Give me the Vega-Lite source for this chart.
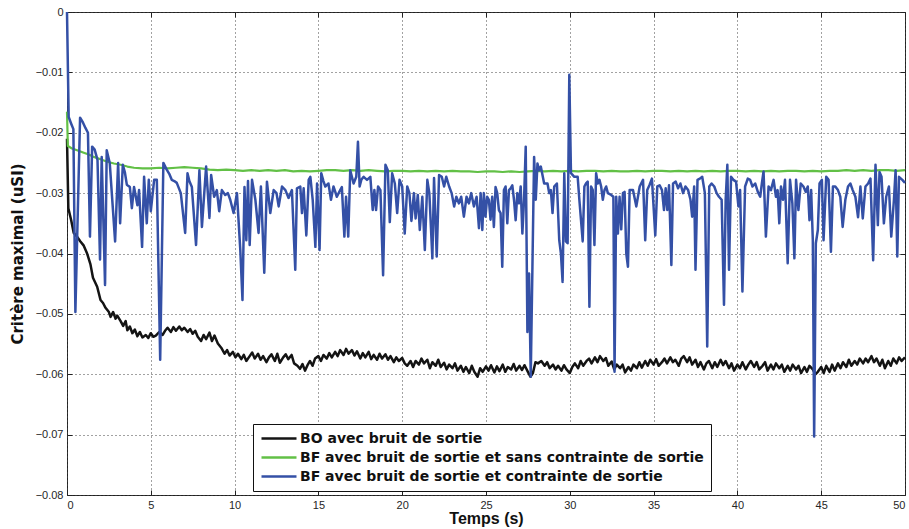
{
  "$schema": "https://vega.github.io/schema/vega-lite/v6.json",
  "width": 838,
  "height": 483,
  "autosize": {"type": "none"},
  "padding": {"left": 67, "top": 12, "right": 5, "bottom": 34},
  "background": "white",
  "resolve": {"axis": {"x": "independent", "y": "independent"}},
  "config": {
    "view": {"stroke": "#222222", "strokeWidth": 1},
    "font": "Liberation Sans",
    "axis": {
      "labelFont": "Liberation Sans",
      "labelFontSize": 11,
      "labelColor": "#262626",
      "titleFont": "Liberation Sans",
      "titleFontWeight": "bold",
      "titleColor": "#111111",
      "gridColor": "#444444",
      "gridDash": [1, 3],
      "gridWidth": 1,
      "gridOpacity": 1,
      "domain": false,
      "tickColor": "#222222",
      "tickSize": -5,
      "tickWidth": 1
    },
    "legend": {
      "labelFont": "DejaVu Sans",
      "labelFontSize": 14,
      "labelFontWeight": "bold",
      "labelColor": "#111111",
      "labelLimit": 0
    }
  },
  "datasets": {
    "bo": [
      {"t":0,"v":-0.021},{"t":0.08,"v":-0.0325},{"t":0.25,"v":-0.0345},{"t":0.4,"v":-0.0366},{"t":0.6,"v":-0.0372},{"t":0.8,"v":-0.038},{"t":1.0,"v":-0.0387},{"t":1.2,"v":-0.04},{"t":1.4,"v":-0.0418},{"t":1.55,"v":-0.044},{"t":1.8,"v":-0.0455},{"t":2.0,"v":-0.0477},{"t":2.15,"v":-0.0482},{"t":2.3,"v":-0.049},{"t":2.5,"v":-0.0497},{"t":2.6,"v":-0.0505},{"t":2.75,"v":-0.0497},{"t":2.9,"v":-0.0508},{"t":3.0,"v":-0.0503},{"t":3.2,"v":-0.0512},{"t":3.35,"v":-0.052},{"t":3.5,"v":-0.0512},{"t":3.6,"v":-0.0527},{"t":3.75,"v":-0.0521},{"t":3.9,"v":-0.0532},{"t":4.05,"v":-0.0526},{"t":4.2,"v":-0.0537},{"t":4.35,"v":-0.053},{"t":4.5,"v":-0.0539},{"t":4.7,"v":-0.0535},{"t":4.85,"v":-0.054},{"t":5.0,"v":-0.0532},{"t":5.15,"v":-0.0538},{"t":5.3,"v":-0.0536},{"t":5.5,"v":-0.053},{"t":5.7,"v":-0.0535},{"t":5.85,"v":-0.0528},{"t":6.0,"v":-0.0523},{"t":6.2,"v":-0.053},{"t":6.35,"v":-0.0522},{"t":6.5,"v":-0.0528},{"t":6.7,"v":-0.0521},{"t":6.85,"v":-0.0527},{"t":7.0,"v":-0.0523},{"t":7.2,"v":-0.053},{"t":7.35,"v":-0.0525},{"t":7.5,"v":-0.0533},{"t":7.65,"v":-0.0528},{"t":7.8,"v":-0.0538},{"t":8.0,"v":-0.0545},{"t":8.15,"v":-0.0535},{"t":8.3,"v":-0.0542},{"t":8.5,"v":-0.0531},{"t":8.65,"v":-0.0545},{"t":8.8,"v":-0.0536},{"t":9.0,"v":-0.0549},{"t":9.2,"v":-0.0556},{"t":9.4,"v":-0.0566},{"t":9.55,"v":-0.056},{"t":9.7,"v":-0.0569},{"t":9.9,"v":-0.0563},{"t":10.05,"v":-0.0572},{"t":10.2,"v":-0.0566},{"t":10.4,"v":-0.0575},{"t":10.55,"v":-0.0568},{"t":10.7,"v":-0.0578},{"t":10.9,"v":-0.057},{"t":11.05,"v":-0.0564},{"t":11.2,"v":-0.0574},{"t":11.4,"v":-0.0566},{"t":11.55,"v":-0.0576},{"t":11.7,"v":-0.057},{"t":11.9,"v":-0.058},{"t":12.05,"v":-0.0572},{"t":12.2,"v":-0.0567},{"t":12.4,"v":-0.0578},{"t":12.55,"v":-0.0566},{"t":12.7,"v":-0.0581},{"t":12.9,"v":-0.0572},{"t":13.05,"v":-0.0567},{"t":13.2,"v":-0.0575},{"t":13.4,"v":-0.0568},{"t":13.55,"v":-0.0582},{"t":13.75,"v":-0.0586},{"t":13.9,"v":-0.0591},{"t":14.05,"v":-0.0583},{"t":14.2,"v":-0.0594},{"t":14.35,"v":-0.0585},{"t":14.5,"v":-0.0578},{"t":14.65,"v":-0.0586},{"t":14.8,"v":-0.0574},{"t":15.0,"v":-0.057},{"t":15.15,"v":-0.0578},{"t":15.3,"v":-0.0568},{"t":15.5,"v":-0.0574},{"t":15.65,"v":-0.0565},{"t":15.8,"v":-0.0572},{"t":16.0,"v":-0.0563},{"t":16.15,"v":-0.057},{"t":16.3,"v":-0.056},{"t":16.5,"v":-0.0568},{"t":16.65,"v":-0.0558},{"t":16.8,"v":-0.0566},{"t":17.0,"v":-0.056},{"t":17.15,"v":-0.0569},{"t":17.3,"v":-0.0562},{"t":17.5,"v":-0.0574},{"t":17.65,"v":-0.0565},{"t":17.8,"v":-0.0572},{"t":18.0,"v":-0.0563},{"t":18.15,"v":-0.0575},{"t":18.3,"v":-0.0568},{"t":18.5,"v":-0.0576},{"t":18.65,"v":-0.0566},{"t":18.8,"v":-0.0574},{"t":19.0,"v":-0.0567},{"t":19.15,"v":-0.0576},{"t":19.3,"v":-0.057},{"t":19.5,"v":-0.058},{"t":19.65,"v":-0.0572},{"t":19.8,"v":-0.0578},{"t":20.0,"v":-0.0573},{"t":20.15,"v":-0.0582},{"t":20.3,"v":-0.0586},{"t":20.5,"v":-0.0578},{"t":20.65,"v":-0.0588},{"t":20.8,"v":-0.0578},{"t":21.0,"v":-0.0584},{"t":21.15,"v":-0.0574},{"t":21.3,"v":-0.0582},{"t":21.5,"v":-0.0576},{"t":21.65,"v":-0.059},{"t":21.8,"v":-0.058},{"t":22.0,"v":-0.0586},{"t":22.15,"v":-0.0576},{"t":22.3,"v":-0.0588},{"t":22.5,"v":-0.0581},{"t":22.65,"v":-0.0592},{"t":22.8,"v":-0.0584},{"t":23.0,"v":-0.059},{"t":23.15,"v":-0.0582},{"t":23.3,"v":-0.0594},{"t":23.5,"v":-0.0586},{"t":23.65,"v":-0.0596},{"t":23.8,"v":-0.0588},{"t":24.0,"v":-0.0598},{"t":24.15,"v":-0.0586},{"t":24.3,"v":-0.0596},{"t":24.5,"v":-0.0604},{"t":24.65,"v":-0.059},{"t":24.8,"v":-0.0596},{"t":25.0,"v":-0.0587},{"t":25.15,"v":-0.0594},{"t":25.3,"v":-0.0585},{"t":25.5,"v":-0.0597},{"t":25.65,"v":-0.0587},{"t":25.8,"v":-0.0595},{"t":26.0,"v":-0.0584},{"t":26.15,"v":-0.0596},{"t":26.3,"v":-0.0588},{"t":26.5,"v":-0.0592},{"t":26.65,"v":-0.0583},{"t":26.8,"v":-0.0594},{"t":27.0,"v":-0.0586},{"t":27.15,"v":-0.0593},{"t":27.3,"v":-0.0585},{"t":27.5,"v":-0.0596},{"t":27.65,"v":-0.0604},{"t":27.8,"v":-0.0598},{"t":27.95,"v":-0.058},{"t":28.1,"v":-0.0582},{"t":28.3,"v":-0.0578},{"t":28.5,"v":-0.0586},{"t":28.65,"v":-0.058},{"t":28.8,"v":-0.059},{"t":29.0,"v":-0.0584},{"t":29.15,"v":-0.0592},{"t":29.3,"v":-0.0586},{"t":29.5,"v":-0.0594},{"t":29.65,"v":-0.0585},{"t":29.8,"v":-0.0592},{"t":30.0,"v":-0.0598},{"t":30.15,"v":-0.0588},{"t":30.3,"v":-0.0582},{"t":30.5,"v":-0.059},{"t":30.65,"v":-0.0578},{"t":30.8,"v":-0.0586},{"t":31.0,"v":-0.0578},{"t":31.15,"v":-0.0574},{"t":31.3,"v":-0.0582},{"t":31.5,"v":-0.0572},{"t":31.65,"v":-0.058},{"t":31.8,"v":-0.057},{"t":32.0,"v":-0.0578},{"t":32.15,"v":-0.0573},{"t":32.3,"v":-0.0586},{"t":32.5,"v":-0.0579},{"t":32.65,"v":-0.0592},{"t":32.8,"v":-0.0584},{"t":33.0,"v":-0.059},{"t":33.15,"v":-0.0584},{"t":33.3,"v":-0.0597},{"t":33.5,"v":-0.0588},{"t":33.65,"v":-0.0594},{"t":33.8,"v":-0.0584},{"t":34.0,"v":-0.059},{"t":34.15,"v":-0.058},{"t":34.3,"v":-0.0589},{"t":34.5,"v":-0.0578},{"t":34.65,"v":-0.0586},{"t":34.8,"v":-0.0576},{"t":35.0,"v":-0.0584},{"t":35.15,"v":-0.0575},{"t":35.3,"v":-0.0586},{"t":35.5,"v":-0.058},{"t":35.65,"v":-0.0574},{"t":35.8,"v":-0.0582},{"t":36.0,"v":-0.0572},{"t":36.15,"v":-0.058},{"t":36.3,"v":-0.0576},{"t":36.5,"v":-0.0586},{"t":36.65,"v":-0.0574},{"t":36.8,"v":-0.057},{"t":37.0,"v":-0.058},{"t":37.15,"v":-0.0572},{"t":37.3,"v":-0.0584},{"t":37.5,"v":-0.0576},{"t":37.65,"v":-0.0588},{"t":37.8,"v":-0.058},{"t":38.0,"v":-0.0592},{"t":38.15,"v":-0.0582},{"t":38.3,"v":-0.0578},{"t":38.5,"v":-0.059},{"t":38.65,"v":-0.058},{"t":38.8,"v":-0.0588},{"t":39.0,"v":-0.0576},{"t":39.15,"v":-0.0585},{"t":39.3,"v":-0.0578},{"t":39.5,"v":-0.059},{"t":39.65,"v":-0.0582},{"t":39.8,"v":-0.0594},{"t":40.0,"v":-0.0584},{"t":40.15,"v":-0.059},{"t":40.3,"v":-0.058},{"t":40.5,"v":-0.0592},{"t":40.65,"v":-0.0584},{"t":40.8,"v":-0.0578},{"t":41.0,"v":-0.0588},{"t":41.15,"v":-0.058},{"t":41.3,"v":-0.0592},{"t":41.5,"v":-0.0586},{"t":41.65,"v":-0.058},{"t":41.8,"v":-0.0594},{"t":42.0,"v":-0.0584},{"t":42.15,"v":-0.0592},{"t":42.3,"v":-0.0582},{"t":42.5,"v":-0.059},{"t":42.65,"v":-0.0584},{"t":42.8,"v":-0.0596},{"t":43.0,"v":-0.0586},{"t":43.15,"v":-0.0594},{"t":43.3,"v":-0.0584},{"t":43.5,"v":-0.0592},{"t":43.65,"v":-0.0586},{"t":43.8,"v":-0.0598},{"t":44.0,"v":-0.0588},{"t":44.15,"v":-0.0596},{"t":44.3,"v":-0.0586},{"t":44.5,"v":-0.0592},{"t":44.65,"v":-0.06},{"t":44.8,"v":-0.0596},{"t":45.0,"v":-0.0588},{"t":45.15,"v":-0.0598},{"t":45.3,"v":-0.0586},{"t":45.5,"v":-0.0596},{"t":45.65,"v":-0.0584},{"t":45.8,"v":-0.0594},{"t":46.0,"v":-0.0582},{"t":46.15,"v":-0.059},{"t":46.3,"v":-0.058},{"t":46.5,"v":-0.0588},{"t":46.65,"v":-0.0576},{"t":46.8,"v":-0.0586},{"t":47.0,"v":-0.0578},{"t":47.15,"v":-0.0584},{"t":47.3,"v":-0.0574},{"t":47.5,"v":-0.0582},{"t":47.65,"v":-0.0574},{"t":47.8,"v":-0.058},{"t":48.0,"v":-0.057},{"t":48.15,"v":-0.058},{"t":48.3,"v":-0.0574},{"t":48.5,"v":-0.0586},{"t":48.65,"v":-0.0576},{"t":48.8,"v":-0.059},{"t":49.0,"v":-0.0578},{"t":49.15,"v":-0.0586},{"t":49.3,"v":-0.0574},{"t":49.5,"v":-0.0582},{"t":49.65,"v":-0.0572},{"t":49.8,"v":-0.0578},{"t":50.0,"v":-0.0572}
    ],
    "bfs": [
      {"t":0,"v":-0.0165},{"t":0.05,"v":-0.0222},{"t":0.3,"v":-0.0226},{"t":0.6,"v":-0.0229},{"t":1.0,"v":-0.0233},{"t":1.3,"v":-0.0236},{"t":1.6,"v":-0.024},{"t":2.0,"v":-0.0244},{"t":2.4,"v":-0.0248},{"t":2.8,"v":-0.0251},{"t":3.2,"v":-0.0253},{"t":3.6,"v":-0.0256},{"t":4.0,"v":-0.0258},{"t":4.5,"v":-0.0259},{"t":5.0,"v":-0.0259},{"t":5.5,"v":-0.0258},{"t":6.0,"v":-0.0259},{"t":6.5,"v":-0.0258},{"t":7.0,"v":-0.0257},{"t":7.5,"v":-0.0258},{"t":8.0,"v":-0.0259},{"t":8.5,"v":-0.0261},{"t":9.0,"v":-0.0262},{"t":9.5,"v":-0.0261},{"t":10.0,"v":-0.0262},{"t":10.5,"v":-0.0263},{"t":11.0,"v":-0.0262},{"t":11.5,"v":-0.0263},{"t":12.0,"v":-0.0262},{"t":12.5,"v":-0.0263},{"t":13.0,"v":-0.0262},{"t":13.5,"v":-0.0264},{"t":14.0,"v":-0.0263},{"t":14.5,"v":-0.0264},{"t":15.0,"v":-0.0263},{"t":15.5,"v":-0.0262},{"t":16.0,"v":-0.0262},{"t":16.5,"v":-0.0263},{"t":17.0,"v":-0.0262},{"t":17.5,"v":-0.0263},{"t":18.0,"v":-0.0262},{"t":18.5,"v":-0.0263},{"t":19.0,"v":-0.0264},{"t":19.5,"v":-0.0263},{"t":20.0,"v":-0.0263},{"t":20.5,"v":-0.0264},{"t":21.0,"v":-0.0263},{"t":21.5,"v":-0.0264},{"t":22.0,"v":-0.0263},{"t":22.5,"v":-0.0264},{"t":23.0,"v":-0.0263},{"t":23.5,"v":-0.0264},{"t":24.0,"v":-0.0264},{"t":24.5,"v":-0.0265},{"t":25.0,"v":-0.0264},{"t":25.5,"v":-0.0264},{"t":26.0,"v":-0.0265},{"t":26.5,"v":-0.0264},{"t":27.0,"v":-0.0265},{"t":27.5,"v":-0.0264},{"t":28.0,"v":-0.0263},{"t":28.5,"v":-0.0264},{"t":29.0,"v":-0.0263},{"t":29.5,"v":-0.0264},{"t":30.0,"v":-0.0263},{"t":30.5,"v":-0.0264},{"t":31.0,"v":-0.0263},{"t":31.5,"v":-0.0263},{"t":32.0,"v":-0.0264},{"t":32.5,"v":-0.0263},{"t":33.0,"v":-0.0264},{"t":33.5,"v":-0.0264},{"t":34.0,"v":-0.0263},{"t":34.5,"v":-0.0264},{"t":35.0,"v":-0.0263},{"t":35.5,"v":-0.0263},{"t":36.0,"v":-0.0264},{"t":36.5,"v":-0.0263},{"t":37.0,"v":-0.0264},{"t":37.5,"v":-0.0263},{"t":38.0,"v":-0.0264},{"t":38.5,"v":-0.0263},{"t":39.0,"v":-0.0264},{"t":39.5,"v":-0.0263},{"t":40.0,"v":-0.0263},{"t":40.5,"v":-0.0264},{"t":41.0,"v":-0.0263},{"t":41.5,"v":-0.0264},{"t":42.0,"v":-0.0263},{"t":42.5,"v":-0.0264},{"t":43.0,"v":-0.0263},{"t":43.5,"v":-0.0263},{"t":44.0,"v":-0.0264},{"t":44.5,"v":-0.0263},{"t":45.0,"v":-0.0264},{"t":45.5,"v":-0.0263},{"t":46.0,"v":-0.0263},{"t":46.5,"v":-0.0262},{"t":47.0,"v":-0.0263},{"t":47.5,"v":-0.0262},{"t":48.0,"v":-0.0263},{"t":48.5,"v":-0.0262},{"t":49.0,"v":-0.0262},{"t":49.5,"v":-0.0263},{"t":50.0,"v":-0.0262}
    ],
    "bfc": [
      {"t":0,"v":0},{"t":0.1,"v":-0.0174},{"t":0.25,"v":-0.0185},{"t":0.38,"v":-0.0194},{"t":0.5,"v":-0.0497},{"t":0.78,"v":-0.0175},{"t":0.95,"v":-0.0183},{"t":1.1,"v":-0.0192},{"t":1.25,"v":-0.02},{"t":1.37,"v":-0.0372},{"t":1.5,"v":-0.0223},{"t":1.65,"v":-0.0228},{"t":1.82,"v":-0.0245},{"t":1.97,"v":-0.041},{"t":2.07,"v":-0.024},{"t":2.27,"v":-0.0452},{"t":2.37,"v":-0.0229},{"t":2.55,"v":-0.025},{"t":2.87,"v":-0.038},{"t":3.05,"v":-0.025},{"t":3.17,"v":-0.035},{"t":3.33,"v":-0.0253},{"t":3.45,"v":-0.0265},{"t":3.57,"v":-0.0286},{"t":3.75,"v":-0.029},{"t":3.87,"v":-0.0325},{"t":4.0,"v":-0.029},{"t":4.2,"v":-0.032},{"t":4.3,"v":-0.0295},{"t":4.48,"v":-0.0389},{"t":4.6,"v":-0.0273},{"t":4.76,"v":-0.035},{"t":4.88,"v":-0.0278},{"t":5.0,"v":-0.033},{"t":5.2,"v":-0.0278},{"t":5.36,"v":-0.0278},{"t":5.56,"v":-0.0576},{"t":5.75,"v":-0.025},{"t":5.95,"v":-0.0261},{"t":6.1,"v":-0.0268},{"t":6.25,"v":-0.0278},{"t":6.4,"v":-0.028},{"t":6.55,"v":-0.0283},{"t":6.79,"v":-0.03},{"t":7.05,"v":-0.0366},{"t":7.19,"v":-0.0267},{"t":7.3,"v":-0.028},{"t":7.45,"v":-0.029},{"t":7.7,"v":-0.0386},{"t":7.9,"v":-0.0262},{"t":8.05,"v":-0.0356},{"t":8.3,"v":-0.0256},{"t":8.5,"v":-0.0341},{"t":8.6,"v":-0.027},{"t":8.78,"v":-0.0306},{"t":8.94,"v":-0.0295},{"t":9.08,"v":-0.033},{"t":9.24,"v":-0.0295},{"t":9.44,"v":-0.0303},{"t":9.6,"v":-0.03},{"t":9.74,"v":-0.0311},{"t":9.94,"v":-0.0333},{"t":10.14,"v":-0.03},{"t":10.34,"v":-0.0394},{"t":10.47,"v":-0.0477},{"t":10.59,"v":-0.029},{"t":10.7,"v":-0.0378},{"t":10.8,"v":-0.028},{"t":10.9,"v":-0.0386},{"t":11.04,"v":-0.0278},{"t":11.24,"v":-0.0311},{"t":11.43,"v":-0.0366},{"t":11.57,"v":-0.0289},{"t":11.77,"v":-0.0432},{"t":11.93,"v":-0.0281},{"t":12.13,"v":-0.0333},{"t":12.33,"v":-0.0295},{"t":12.5,"v":-0.03},{"t":12.63,"v":-0.0322},{"t":12.83,"v":-0.0289},{"t":13.03,"v":-0.0295},{"t":13.22,"v":-0.0308},{"t":13.42,"v":-0.0295},{"t":13.62,"v":-0.0427},{"t":13.72,"v":-0.0292},{"t":13.92,"v":-0.0289},{"t":14.02,"v":-0.0333},{"t":14.12,"v":-0.0292},{"t":14.28,"v":-0.037},{"t":14.42,"v":-0.0278},{"t":14.52,"v":-0.0273},{"t":14.66,"v":-0.0311},{"t":14.82,"v":-0.0389},{"t":14.92,"v":-0.0284},{"t":15.07,"v":-0.0394},{"t":15.17,"v":-0.0267},{"t":15.3,"v":-0.028},{"t":15.41,"v":-0.0289},{"t":15.6,"v":-0.0284},{"t":15.75,"v":-0.0311},{"t":15.9,"v":-0.0289},{"t":16.1,"v":-0.0306},{"t":16.3,"v":-0.0295},{"t":16.4,"v":-0.029},{"t":16.55,"v":-0.0372},{"t":16.65,"v":-0.0306},{"t":16.78,"v":-0.0372},{"t":16.9,"v":-0.0262},{"t":17.1,"v":-0.0284},{"t":17.26,"v":-0.0273},{"t":17.36,"v":-0.0215},{"t":17.46,"v":-0.0289},{"t":17.56,"v":-0.0278},{"t":17.7,"v":-0.0273},{"t":17.9,"v":-0.0278},{"t":18.1,"v":-0.0273},{"t":18.24,"v":-0.0328},{"t":18.34,"v":-0.0295},{"t":18.44,"v":-0.0328},{"t":18.56,"v":-0.0289},{"t":18.7,"v":-0.0295},{"t":18.86,"v":-0.0436},{"t":19.0,"v":-0.0253},{"t":19.14,"v":-0.0262},{"t":19.26,"v":-0.0348},{"t":19.4,"v":-0.0267},{"t":19.56,"v":-0.0284},{"t":19.7,"v":-0.0333},{"t":19.84,"v":-0.0278},{"t":20.0,"v":-0.0289},{"t":20.15,"v":-0.0367},{"t":20.3,"v":-0.0289},{"t":20.43,"v":-0.03},{"t":20.55,"v":-0.0346},{"t":20.7,"v":-0.03},{"t":20.8,"v":-0.0342},{"t":20.93,"v":-0.0303},{"t":21.05,"v":-0.0361},{"t":21.2,"v":-0.0306},{"t":21.35,"v":-0.0394},{"t":21.5,"v":-0.0278},{"t":21.62,"v":-0.03},{"t":21.8,"v":-0.0408},{"t":21.9,"v":-0.0275},{"t":22.06,"v":-0.0405},{"t":22.2,"v":-0.027},{"t":22.36,"v":-0.0273},{"t":22.5,"v":-0.0289},{"t":22.63,"v":-0.0273},{"t":22.8,"v":-0.0289},{"t":22.95,"v":-0.03},{"t":23.1,"v":-0.0322},{"t":23.23,"v":-0.0306},{"t":23.38,"v":-0.0317},{"t":23.52,"v":-0.0306},{"t":23.68,"v":-0.0339},{"t":23.84,"v":-0.0306},{"t":23.98,"v":-0.0317},{"t":24.12,"v":-0.03},{"t":24.28,"v":-0.0322},{"t":24.44,"v":-0.0306},{"t":24.58,"v":-0.0358},{"t":24.68,"v":-0.03},{"t":24.78,"v":-0.0361},{"t":24.87,"v":-0.03},{"t":24.97,"v":-0.0339},{"t":25.07,"v":-0.0306},{"t":25.17,"v":-0.0311},{"t":25.27,"v":-0.0344},{"t":25.37,"v":-0.0306},{"t":25.47,"v":-0.0356},{"t":25.57,"v":-0.029},{"t":25.67,"v":-0.03},{"t":25.77,"v":-0.0328},{"t":25.87,"v":-0.0333},{"t":25.97,"v":-0.0422},{"t":26.07,"v":-0.0295},{"t":26.17,"v":-0.0289},{"t":26.27,"v":-0.035},{"t":26.37,"v":-0.0295},{"t":26.47,"v":-0.0292},{"t":26.57,"v":-0.0287},{"t":26.67,"v":-0.0311},{"t":26.77,"v":-0.0345},{"t":26.87,"v":-0.03},{"t":26.97,"v":-0.0317},{"t":27.07,"v":-0.0289},{"t":27.17,"v":-0.0367},{"t":27.27,"v":-0.0311},{"t":27.37,"v":-0.0223},{"t":27.47,"v":-0.053},{"t":27.57,"v":-0.0433},{"t":27.67,"v":-0.0604},{"t":27.77,"v":-0.0422},{"t":27.87,"v":-0.024},{"t":27.97,"v":-0.0311},{"t":28.07,"v":-0.0251},{"t":28.17,"v":-0.0262},{"t":28.27,"v":-0.0256},{"t":28.47,"v":-0.0284},{"t":28.67,"v":-0.0284},{"t":28.77,"v":-0.03},{"t":28.87,"v":-0.0295},{"t":28.97,"v":-0.0333},{"t":29.07,"v":-0.0289},{"t":29.23,"v":-0.0284},{"t":29.37,"v":-0.0378},{"t":29.47,"v":-0.04},{"t":29.57,"v":-0.0447},{"t":29.67,"v":-0.0267},{"t":29.77,"v":-0.038},{"t":29.87,"v":-0.0383},{"t":29.97,"v":-0.0104},{"t":30.07,"v":-0.0267},{"t":30.27,"v":-0.0273},{"t":30.47,"v":-0.0273},{"t":30.57,"v":-0.0311},{"t":30.67,"v":-0.0345},{"t":30.77,"v":-0.038},{"t":30.87,"v":-0.0289},{"t":30.97,"v":-0.0284},{"t":31.07,"v":-0.0281},{"t":31.17,"v":-0.0488},{"t":31.27,"v":-0.0289},{"t":31.37,"v":-0.0295},{"t":31.47,"v":-0.0386},{"t":31.57,"v":-0.0267},{"t":31.67,"v":-0.0284},{"t":31.77,"v":-0.0278},{"t":31.87,"v":-0.0289},{"t":31.97,"v":-0.0311},{"t":32.07,"v":-0.0295},{"t":32.17,"v":-0.0289},{"t":32.27,"v":-0.03},{"t":32.47,"v":-0.0303},{"t":32.6,"v":-0.0306},{"t":32.67,"v":-0.0596},{"t":32.77,"v":-0.0306},{"t":32.87,"v":-0.0367},{"t":32.97,"v":-0.0306},{"t":33.07,"v":-0.036},{"t":33.17,"v":-0.03},{"t":33.27,"v":-0.0298},{"t":33.37,"v":-0.04},{"t":33.47,"v":-0.0422},{"t":33.57,"v":-0.0295},{"t":33.77,"v":-0.0295},{"t":33.97,"v":-0.0322},{"t":34.17,"v":-0.0289},{"t":34.37,"v":-0.0278},{"t":34.5,"v":-0.0378},{"t":34.62,"v":-0.0295},{"t":34.75,"v":-0.0287},{"t":34.9,"v":-0.0276},{"t":35.1,"v":-0.037},{"t":35.22,"v":-0.0289},{"t":35.36,"v":-0.0287},{"t":35.5,"v":-0.0295},{"t":35.62,"v":-0.0328},{"t":35.72,"v":-0.0292},{"t":35.82,"v":-0.0328},{"t":35.92,"v":-0.0287},{"t":36.06,"v":-0.0419},{"t":36.16,"v":-0.0284},{"t":36.32,"v":-0.0281},{"t":36.46,"v":-0.0292},{"t":36.6,"v":-0.0284},{"t":36.76,"v":-0.03},{"t":36.9,"v":-0.0289},{"t":37.06,"v":-0.0295},{"t":37.2,"v":-0.0311},{"t":37.3,"v":-0.0339},{"t":37.42,"v":-0.0289},{"t":37.5,"v":-0.0427},{"t":37.62,"v":-0.0278},{"t":37.76,"v":-0.0276},{"t":37.9,"v":-0.0273},{"t":38.06,"v":-0.03},{"t":38.2,"v":-0.0554},{"t":38.32,"v":-0.0289},{"t":38.46,"v":-0.0284},{"t":38.62,"v":-0.0289},{"t":38.76,"v":-0.03},{"t":38.9,"v":-0.0306},{"t":39.06,"v":-0.0311},{"t":39.2,"v":-0.0485},{"t":39.3,"v":-0.0311},{"t":39.4,"v":-0.0253},{"t":39.5,"v":-0.0427},{"t":39.62,"v":-0.0273},{"t":39.76,"v":-0.0278},{"t":39.92,"v":-0.0281},{"t":40.06,"v":-0.0322},{"t":40.16,"v":-0.0295},{"t":40.3,"v":-0.0463},{"t":40.46,"v":-0.0289},{"t":40.62,"v":-0.0276},{"t":40.76,"v":-0.0278},{"t":40.9,"v":-0.0289},{"t":41.06,"v":-0.0284},{"t":41.22,"v":-0.0298},{"t":41.36,"v":-0.0306},{"t":41.46,"v":-0.0284},{"t":41.56,"v":-0.0264},{"t":41.7,"v":-0.0372},{"t":41.86,"v":-0.0289},{"t":42.0,"v":-0.0295},{"t":42.16,"v":-0.0278},{"t":42.3,"v":-0.0306},{"t":42.4,"v":-0.0295},{"t":42.5,"v":-0.035},{"t":42.6,"v":-0.0289},{"t":42.72,"v":-0.0311},{"t":42.84,"v":-0.0278},{"t":43.0,"v":-0.0416},{"t":43.14,"v":-0.0278},{"t":43.28,"v":-0.0317},{"t":43.4,"v":-0.0408},{"t":43.5,"v":-0.0278},{"t":43.64,"v":-0.0328},{"t":43.78,"v":-0.0284},{"t":43.94,"v":-0.0289},{"t":44.08,"v":-0.0298},{"t":44.2,"v":-0.0289},{"t":44.3,"v":-0.0345},{"t":44.4,"v":-0.0295},{"t":44.5,"v":-0.0378},{"t":44.58,"v":-0.0703},{"t":44.68,"v":-0.0383},{"t":44.8,"v":-0.0361},{"t":44.9,"v":-0.0284},{"t":45.04,"v":-0.0278},{"t":45.14,"v":-0.0378},{"t":45.3,"v":-0.0273},{"t":45.44,"v":-0.0278},{"t":45.58,"v":-0.0397},{"t":45.7,"v":-0.0289},{"t":45.84,"v":-0.0289},{"t":46.0,"v":-0.0295},{"t":46.14,"v":-0.0306},{"t":46.28,"v":-0.0356},{"t":46.44,"v":-0.0311},{"t":46.6,"v":-0.0289},{"t":46.74,"v":-0.0284},{"t":46.88,"v":-0.0295},{"t":47.04,"v":-0.0306},{"t":47.2,"v":-0.034},{"t":47.34,"v":-0.0289},{"t":47.48,"v":-0.0342},{"t":47.64,"v":-0.0289},{"t":47.8,"v":-0.0284},{"t":47.94,"v":-0.0276},{"t":48.1,"v":-0.0411},{"t":48.24,"v":-0.0253},{"t":48.38,"v":-0.0353},{"t":48.48,"v":-0.0265},{"t":48.6,"v":-0.0273},{"t":48.74,"v":-0.035},{"t":48.88,"v":-0.0306},{"t":49.04,"v":-0.0289},{"t":49.18,"v":-0.0372},{"t":49.34,"v":-0.0311},{"t":49.44,"v":-0.0262},{"t":49.54,"v":-0.0405},{"t":49.64,"v":-0.0273},{"t":49.84,"v":-0.0278},{"t":50.0,"v":-0.0283}
    ]
  },
  "layer": [
    {
      "data": {"name": "bo"},
      "mark": {"type": "line", "strokeWidth": 2.5, "strokeJoin": "round"},
      "encoding": {
        "x": {"field": "t", "type": "quantitative", "scale": {"domain": [0, 50], "nice": false},
          "axis": {"values": [0,5,10,15,20,25,30,35,40,45,50], "title": "Temps (s)", "titleFontSize": 16, "titlePadding": 0, "labelPadding": 9, "grid": true}},
        "y": {"field": "v", "type": "quantitative", "scale": {"domain": [-0.08, 0], "nice": false, "zero": false},
          "axis": {"values": [-0.08,-0.07,-0.06,-0.05,-0.04,-0.03,-0.02,-0.01,0], "labelExpr": "datum.value == 0 ? '0' : '−' + format(-datum.value, '.2f')", "title": "Critère maximal (uSI)", "titleFont": "DejaVu Sans", "titleFontSize": 15, "titlePadding": 10, "labelPadding": 9, "grid": true}},
        "color": {"datum": "BO avec bruit de sortie", "type": "nominal",
          "scale": {"domain": ["BO avec bruit de sortie", "BF avec bruit de sortie et sans contrainte de sortie", "BF avec bruit de sortie et contrainte de sortie"], "range": ["#141414", "#62c046", "#3450a6"]},
          "legend": {"orient": "none", "legendX": 186, "legendY": 412, "title": null, "symbolType": "M-1,0H4.833", "symbolSize": 144, "symbolStrokeWidth": 2.5, "strokeColor": "#111111", "fillColor": "white", "padding": 7, "rowPadding": 4, "labelOffset": 25}}
      }
    },
    {
      "data": {"name": "bfs"},
      "mark": {"type": "line", "strokeWidth": 2.2, "strokeJoin": "round"},
      "encoding": {
        "x": {"field": "t", "type": "quantitative", "axis": null},
        "y": {"field": "v", "type": "quantitative", "axis": null},
        "color": {"datum": "BF avec bruit de sortie et sans contrainte de sortie", "type": "nominal"}
      }
    },
    {
      "data": {"name": "bfc"},
      "mark": {"type": "line", "strokeWidth": 2.5, "strokeJoin": "round"},
      "encoding": {
        "x": {"field": "t", "type": "quantitative", "axis": {"orient": "top", "values": [0,5,10,15,20,25,30,35,40,45,50], "labels": false, "title": null, "grid": false}},
        "y": {"field": "v", "type": "quantitative", "axis": {"orient": "right", "values": [-0.08,-0.07,-0.06,-0.05,-0.04,-0.03,-0.02,-0.01,0], "labels": false, "title": null, "grid": false}},
        "color": {"datum": "BF avec bruit de sortie et contrainte de sortie", "type": "nominal"}
      }
    }
  ]
}
